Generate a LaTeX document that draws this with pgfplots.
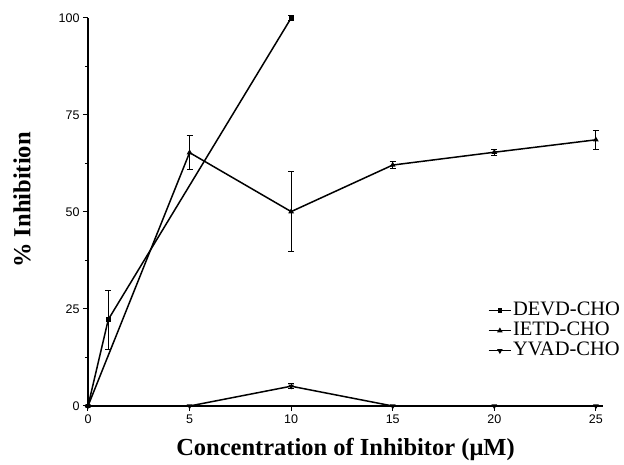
\documentclass[border=0pt]{standalone}
\usepackage{pgfplots}
\pgfplotsset{compat=1.18}
\usepackage{fontspec}
\setmainfont{Liberation Serif}
\newfontfamily\arial{Liberation Sans}
\begin{document}
\begin{tikzpicture}
\path[use as bounding box] (0pt,0pt) rectangle (624pt,465pt);
\begin{axis}[
  at={(88pt,59pt)}, anchor=south west,
  scale only axis, width=515pt, height=388pt,
  xmin=0, xmax=25.35, ymin=0, ymax=100,
  axis lines*=left,
  xtick={0,5,10,15,20,25},
  ytick={0,25,50,75,100},
  minor y tick num=1,
  tick align=outside,
  major tick length=5pt, minor tick length=3pt,
  tick style={black, line width=1pt},
  axis line style={line width=1.3pt},
  clip=false,
  /pgf/number format/assume math mode=true,
  ticklabel style={font=\arial\fontsize{12.5}{14}\selectfont},
  xlabel={\bfseries Concentration of Inhibitor (μM)},
  ylabel={\bfseries \% Inhibition},
  label style={font=\fontsize{24.5}{26}\selectfont},
  xlabel style={at={(axis description cs:0.5,-0.112)}, anchor=center},
  ylabel style={at={(axis description cs:-0.128,0.531)}, anchor=center},
  legend style={at={(axis description cs:0.770,0.277)}, anchor=north west,
    draw=none, fill=none, font=\fontsize{20.5}{22}\selectfont,
    nodes={inner sep=1pt, text height=14pt, text depth=4pt}},
  legend cell align=left,
  legend image code/.code={\draw[line width=1.5pt] (0cm,0cm) -- (0.8cm,0cm); \draw[line width=1.5pt, only marks] plot coordinates {(0.4cm,0cm)};},
  cycle list={{black}},
  error bars/error bar style={line width=0.9pt},
  error bars/error mark options={rotate=90, mark size=3pt, line width=0.9pt},
]
\addplot[black, line width=1.5pt, mark=square*, mark size=1.6pt, mark options={solid}, error bars/.cd, y dir=both, y explicit]
coordinates {(0,0) +- (0,0) (1,22.3) +- (0,7.6) (10,100) +- (0,0.6)};
\addlegendentry{DEVD-CHO}
\addplot[black, line width=1.5pt, mark=triangle*, mark size=1.8pt, mark options={solid}, error bars/.cd, y dir=both, y explicit]
coordinates {(0,0) +- (0,0) (5,65.3) +- (0,4.3) (10,50.1) +- (0,10.3) (15,62.1) +- (0,0.9) (20,65.4) +- (0,0.8) (25,68.6) +- (0,2.4)};
\addlegendentry{IETD-CHO}
\addplot[black, line width=1.5pt, mark=triangle*, mark size=1.8pt, mark options={solid, rotate=180}, error bars/.cd, y dir=both, y explicit]
coordinates {(0,0) +- (0,0) (5,0) +- (0,0) (10,5.1) +- (0,0.6) (15,0) +- (0,0) (20,0) +- (0,0) (25,0) +- (0,0)};
\addlegendentry{YVAD-CHO}
\end{axis}
\end{tikzpicture}
\end{document}
